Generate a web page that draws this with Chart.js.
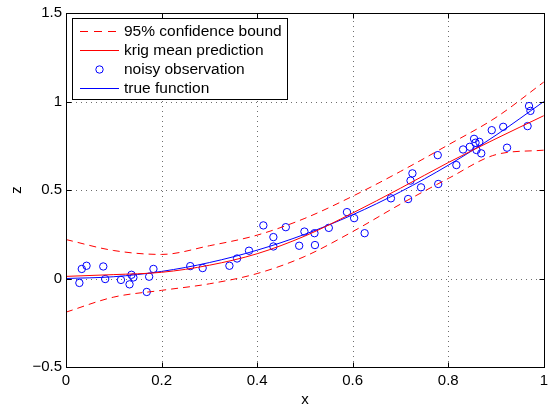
<!DOCTYPE html>
<html>
<head>
<meta charset="utf-8">
<script src="https://cdn.jsdelivr.net/npm/chart.js@4.4.0/dist/chart.umd.min.js"></script>
<style>
  html, body { margin: 0; padding: 0; background: #fff; }
  #wrap { width: 553px; height: 409px; position: relative; }
</style>
</head>
<body>
<div id="wrap"><canvas id="c" width="553" height="409"></canvas></div>
<script>
// ---- data ----
const curveX = [0, 0.1, 0.2, 0.3, 0.4, 0.5, 0.6, 0.7, 0.8, 0.9, 1.0];
const trueZ  = [0, 0.01, 0.04, 0.09, 0.16, 0.25, 0.36, 0.49, 0.64, 0.81, 1.0];
const meanZ  = [0.012, 0.022, 0.035, 0.075, 0.14, 0.24, 0.37, 0.51, 0.655, 0.79, 0.92];
const upperZ = [0.22, 0.158, 0.136, 0.185, 0.245, 0.34, 0.465, 0.605, 0.755, 0.91, 1.11];
const lowerZ = [-0.19, -0.105, -0.067, -0.03, 0.028, 0.125, 0.265, 0.42, 0.565, 0.70, 0.725];

const obsX = [0.028,0.033,0.043,0.078,0.082,0.115,0.133,0.137,0.141,0.169,
              0.174,0.183,0.26,0.286,0.342,0.358,0.383,0.413,0.434,0.434,
              0.46,0.488,0.499,0.52,0.521,0.55,0.588,0.603,0.625,0.68,
              0.716,0.721,0.725,0.743,0.778,0.779,0.817,0.831,0.845,0.854,
              0.857,0.859,0.865,0.869,0.891,0.915,0.923,0.966,0.969,0.972];
const obsZ = [-0.025,0.054,0.072,0.068,-0.003,-0.008,-0.033,0.021,0.006,-0.076,
              0.01,0.054,0.07,0.059,0.072,0.113,0.157,0.30,0.234,0.181,
              0.29,0.185,0.265,0.256,0.189,0.286,0.375,0.341,0.256,0.453,
              0.449,0.553,0.594,0.515,0.697,0.534,0.641,0.729,0.744,0.789,
              0.767,0.726,0.772,0.707,0.838,0.857,0.739,0.861,0.974,0.947];

const xTicks = [0, 0.2, 0.4, 0.6, 0.8, 1];
const yTicks = [-0.5, 0, 0.5, 1, 1.5];
const legendLabels = ['95% confidence bound', 'krig mean prediction', 'noisy observation', 'true function'];
const xTitle = 'x';
const yTitle = 'z';

// ---- build ----
const pts = (xs, ys) => xs.map((x, i) => ({x: x, y: ys[i]}));
const FONT = '"Liberation Sans", Arial, Helvetica, sans-serif';
const RED = '#ff0000', BLUE = '#0000ff';
const DASH = [7, 5];

const lineDs = (label, data, color, dash, order) => ({
  label, data, showLine: true, borderColor: color, borderWidth: 1,
  borderDash: dash, pointRadius: 0, fill: false, order,
  cubicInterpolationMode: 'monotone'
});

const fmt = v => {
  const s = String(parseFloat(Number(v).toFixed(2)));
  return s.startsWith('-') ? '\u2212' + s.slice(1) : s;
};

const matlabPlugin = {
  id: 'matlab',
  beforeDatasetsDraw(chart) {
    const {ctx, chartArea: a, scales: {x, y}} = chart;
    ctx.save();
    ctx.strokeStyle = '#6e6e6e';
    ctx.lineWidth = 1;
    ctx.setLineDash([1, 4]);
    xTicks.forEach(t => {
      const px = Math.round(x.getPixelForValue(t)) + 0.5;
      if (px <= a.left + 1 || px >= a.right - 1) return;
      ctx.beginPath(); ctx.moveTo(px, a.bottom); ctx.lineTo(px, a.top); ctx.stroke();
    });
    yTicks.forEach(t => {
      const py = Math.round(y.getPixelForValue(t)) + 0.5;
      if (py <= a.top + 1 || py >= a.bottom - 1) return;
      ctx.beginPath(); ctx.moveTo(a.left, py); ctx.lineTo(a.right, py); ctx.stroke();
    });
    ctx.restore();
  },
  afterDatasetsDraw(chart) {
    const {ctx, chartArea: a, scales: {x, y}} = chart;
    ctx.save();
    ctx.strokeStyle = '#000';
    ctx.lineWidth = 1;
    ctx.setLineDash([]);
    const L = Math.round(a.left) + 0.5, R = Math.round(a.right) + 0.5;
    const T = Math.round(a.top) + 0.5, B = Math.round(a.bottom) + 0.5;
    ctx.strokeRect(L, T, R - L, B - T);
    const tl = 5;
    xTicks.forEach(t => {
      const px = Math.round(x.getPixelForValue(t)) + 0.5;
      ctx.beginPath();
      ctx.moveTo(px, B); ctx.lineTo(px, B - tl);
      ctx.moveTo(px, T); ctx.lineTo(px, T + tl);
      ctx.stroke();
    });
    yTicks.forEach(t => {
      const py = Math.round(y.getPixelForValue(t)) + 0.5;
      ctx.beginPath();
      ctx.moveTo(L, py); ctx.lineTo(L + tl, py);
      ctx.moveTo(R, py); ctx.lineTo(R - tl, py);
      ctx.stroke();
    });

    // legend box
    const bx = 72.5, by = 18.5, bw = 215, bh = 81;
    ctx.fillStyle = '#fff';
    ctx.fillRect(bx, by, bw, bh);
    ctx.strokeStyle = '#000';
    ctx.strokeRect(bx, by, bw, bh);
    const rows = [31, 50, 69, 88];
    const x0 = 80, x1 = 119, tx = 124;
    ctx.lineWidth = 1;
    // dashed red sample
    ctx.strokeStyle = RED;
    ctx.setLineDash([8, 6]);
    ctx.beginPath(); ctx.moveTo(x0, rows[0] + 0.5); ctx.lineTo(x1 + 1, rows[0] + 0.5); ctx.stroke();
    ctx.setLineDash([]);
    ctx.strokeStyle = RED;
    ctx.beginPath(); ctx.moveTo(x0, rows[1] + 0.5); ctx.lineTo(x1, rows[1] + 0.5); ctx.stroke();
    ctx.strokeStyle = BLUE;
    ctx.beginPath(); ctx.arc((x0 + x1) / 2, rows[2] + 0.5, 3.7, 0, Math.PI * 2); ctx.stroke();
    ctx.beginPath(); ctx.moveTo(x0, rows[3] + 0.5); ctx.lineTo(x1, rows[3] + 0.5); ctx.stroke();
    ctx.fillStyle = '#000';
    ctx.font = '15.5px ' + FONT;
    ctx.textBaseline = 'middle';
    ctx.textAlign = 'left';
    legendLabels.forEach((s, i) => ctx.fillText(s, tx, rows[i] + 1));
    ctx.restore();
  }
};

new Chart(document.getElementById('c'), {
  type: 'scatter',
  data: {
    datasets: [
      lineDs(legendLabels[0], pts(curveX, upperZ), RED, DASH, 1),
      lineDs(legendLabels[0], pts(curveX, lowerZ), RED, DASH, 1),
      lineDs(legendLabels[1], pts(curveX, meanZ), RED, [], 2),
      {
        label: legendLabels[2], data: pts(obsX, obsZ), showLine: false,
        pointStyle: 'circle', pointRadius: 3.7, pointBorderWidth: 1,
        pointBorderColor: BLUE, pointBackgroundColor: 'rgba(0,0,0,0)', order: 4
      },
      lineDs(legendLabels[3], pts(curveX, trueZ), BLUE, [], 3)
    ]
  },
  options: {
    responsive: false,
    animation: false,
    devicePixelRatio: 1,
    layout: { padding: { top: 12, right: 9, left: 0, bottom: 0 } },
    plugins: { legend: { display: false }, tooltip: { enabled: false } },
    scales: {
      x: {
        type: 'linear', min: 0, max: 1,
        afterBuildTicks: s => { s.ticks = xTicks.map(v => ({value: v})); },
        afterFit: s => { s.height = 42; },
        grid: { display: false, drawTicks: false },
        border: { display: false },
        ticks: { color: '#000', font: { family: FONT, size: 15 }, padding: 5, maxRotation: 0, autoSkip: false, callback: v => fmt(v) },
        title: { display: true, text: xTitle, color: '#000', font: { family: FONT, size: 15 }, padding: 0 }
      },
      y: {
        type: 'linear', min: -0.5, max: 1.5,
        afterBuildTicks: s => { s.ticks = yTicks.map(v => ({value: v})); },
        afterFit: s => { s.width = 66; },
        grid: { display: false, drawTicks: false },
        border: { display: false },
        ticks: { color: '#000', font: { family: FONT, size: 15 }, padding: 4, autoSkip: false, callback: v => fmt(v) },
        title: { display: true, text: yTitle, color: '#000', font: { family: FONT, size: 15 }, padding: { top: 8, bottom: 0 } }
      }
    }
  },
  plugins: [matlabPlugin]
});
</script>
</body>
</html>
